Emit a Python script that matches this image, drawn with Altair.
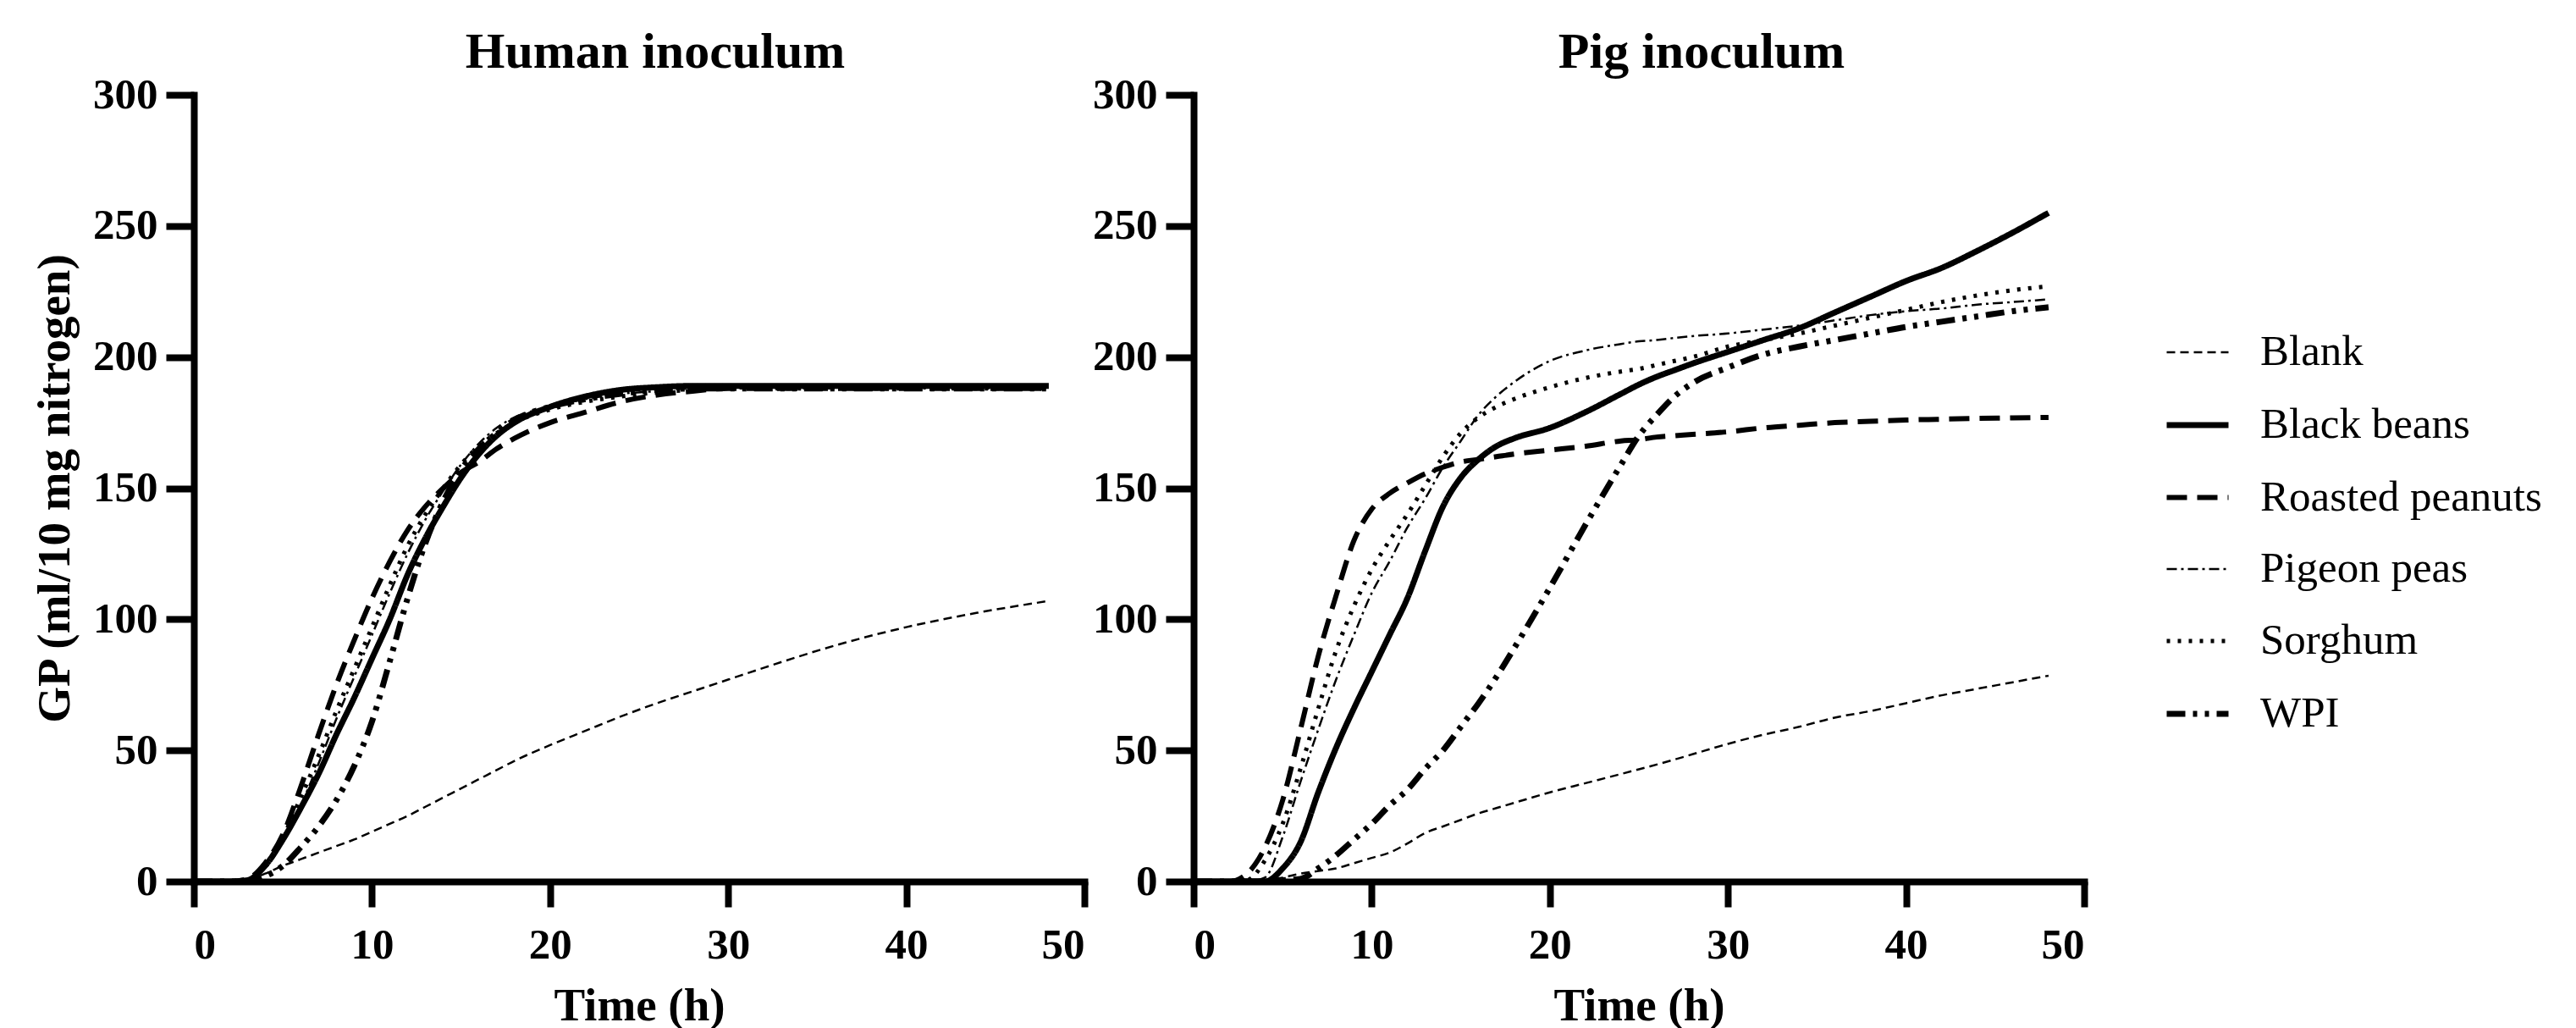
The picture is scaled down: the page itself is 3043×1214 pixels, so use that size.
import altair as alt
import pandas as pd

series_names = ["Blank", "Black beans", "Roasted peanuts", "Pigeon peas", "Sorghum", "WPI"]

# ---- Human inoculum ----
human_time = [0, 2, 3, 4, 5, 6, 7, 8, 9, 10, 11, 12, 13, 14, 15, 16, 17, 18, 20, 22, 24, 26, 28, 30, 32, 36, 40, 44, 48]
human_blank = [0, 0, 0.5, 3, 6, 8.5, 11, 13.5, 16, 19, 22, 25, 28.5, 32, 35.5, 39, 42.5, 46, 52, 57.5, 63, 68, 72.5, 77, 81.5, 90, 97, 102.5, 107]
human_black_beans = [0, 0, 0.5, 6, 16, 28, 41, 56, 70, 85, 100, 117, 131, 143, 154, 163, 170, 175, 181, 185, 187.5, 188.5, 189, 189, 189, 189, 189, 189, 189]
human_roasted_peanuts = [0, 0, 1, 7, 18, 36, 56, 75, 92, 108, 122, 134, 143, 150, 156, 160, 165, 169, 175, 179, 183, 185.5, 187, 188, 188, 188, 188, 188, 188]
human_pigeon_peas = [0, 0, 0.5, 5, 15, 29, 45, 62, 78, 94, 110, 125, 138, 149, 159, 167, 173, 177, 181, 184, 186, 187, 188, 188, 188, 188, 188, 188, 188]
human_sorghum = [0, 0, 0.5, 6, 17, 32, 48, 65, 81, 97, 113, 128, 140, 150, 159, 166, 171, 175, 180, 183, 185, 186.5, 187.5, 188, 188, 188, 188, 188, 188]
human_wpi = [0, 0, 0, 2, 6, 13, 21, 31, 44, 61, 84, 108, 129, 145, 157, 165, 171, 176, 181, 184, 186, 187.5, 188, 188, 188, 188, 188, 188, 188]

# ---- Pig inoculum ----
pig_time = [0, 2, 3, 4, 5, 6, 7, 8, 9, 10, 11, 12, 13, 14, 15, 16, 17, 18, 20, 22, 24, 25, 26, 27, 28, 30, 32, 34, 36, 38, 40, 42, 44, 46, 48]
pig_blank = [0, 0, 0, 0.5, 1.5, 3, 4, 5, 7, 9, 11, 14.5, 18.5, 21, 23.5, 26, 28, 30, 34, 37.5, 41, 42.8, 44.6, 46.5, 48.5, 52.5, 56, 59, 62.5, 65, 68, 71, 73.5, 76, 78.5]
pig_black_beans = [0, 0, 0, 0, 5, 15, 34, 51, 66, 80, 94, 108, 126, 143, 154, 161, 166, 169, 173, 179, 186, 189.5, 192.5, 195, 197.5, 202, 206.5, 211, 217, 223, 229, 234, 240.5, 247.5, 255]
pig_roasted_peanuts = [0, 0, 3, 13, 31, 58, 86, 109, 130, 142, 148, 152, 155.5, 158, 160, 161, 162, 163, 164.5, 166, 168, 168.5, 169.5, 170, 170.5, 171.5, 173, 174, 175, 175.5, 176, 176.3, 176.6, 176.8, 177]
pig_pigeon_peas = [0, 0, 0, 1.5, 17, 38, 58, 77, 94, 110, 122, 135, 146, 158, 168, 178, 185, 190.5, 198.5, 202.5, 205, 206, 206.5, 207.3, 208, 209, 210.5, 212, 214, 216, 217.5, 218.5, 220, 221, 222]
pig_sorghum = [0, 0, 0.5, 8, 22, 43, 66, 88, 105, 119, 130, 140, 151, 162, 171, 177, 181, 184, 188.5, 192, 194.5, 195.5, 197, 198.5, 200, 204, 206.5, 209, 212, 215, 218, 221, 223.5, 225.5, 227]
pig_wpi = [0, 0, 0, 0, 0.5, 1, 5, 10, 16, 22, 29, 35, 43, 50, 59, 68, 78, 89, 112, 136, 159, 170, 178, 185, 190, 196, 201, 204, 206.5, 209, 211.5, 213.5, 215.5, 217.5, 219]

x_ticks = [0, 10, 20, 30, 40, 50]
y_ticks = [0, 50, 100, 150, 200, 250, 300]

dash_range = [[10, 6], [1, 0], [24, 12], [12, 5, 3, 5], [4, 9], [22, 9, 5, 9, 5, 9]]
width_range = [2.5, 7, 6, 2.5, 5, 7]


def long_df(times, series_values):
    rows = []
    for name, vals in zip(series_names, series_values):
        for t, v in zip(times, vals):
            rows.append({"time": t, "gp": v, "series": name})
    return pd.DataFrame(rows)


human_df = long_df(human_time, [human_blank, human_black_beans, human_roasted_peanuts,
                                human_pigeon_peas, human_sorghum, human_wpi])
pig_df = long_df(pig_time, [pig_blank, pig_black_beans, pig_roasted_peanuts,
                            pig_pigeon_peas, pig_sorghum, pig_wpi])

FONT = "Liberation Serif"

legend = alt.Legend(
    title=None, orient="none", legendX=2327, legendY=266,
    symbolType="stroke", symbolSize=5329, symbolStrokeColor="black",
    labelFont=FONT, labelFontSize=51, labelFontWeight="normal", labelColor="black",
    labelOffset=34, labelLimit=800, rowPadding=21, padding=0,
)


def panel(df, title, dx, y_title):
    return alt.Chart(df).mark_line(color="black", interpolate="monotone", strokeCap="butt").encode(
        x=alt.X("time:Q", scale=alt.Scale(domain=[0, 50], nice=False),
                axis=alt.Axis(values=x_ticks, title="Time (h)", tickSize=30, labelPadding=20, titlePadding=20)),
        y=alt.Y("gp:Q", scale=alt.Scale(domain=[0, 300], nice=False),
                axis=alt.Axis(values=y_ticks, title=y_title, tickSize=33, labelPadding=10, titlePadding=16)),
        strokeDash=alt.StrokeDash("series:N", scale=alt.Scale(type="ordinal", domain=series_names, range=dash_range),
                                  legend=legend),
        strokeWidth=alt.StrokeWidth("series:N", scale=alt.Scale(type="ordinal", domain=series_names, range=width_range),
                                    legend=legend),
    ).properties(
        width=1052, height=929,
        title=alt.TitleParams(title, font=FONT, fontSize=60, fontWeight="bold", color="black",
                              anchor="middle", dx=dx, offset=-7),
    )


left = panel(human_df, "Human inoculum", 19, "GP (ml/10 mg nitrogen)")
right = panel(pig_df, "Pig inoculum", 74, "")

chart = alt.hconcat(left, right, spacing=129, bounds="flush").resolve_scale(
    strokeDash="shared", strokeWidth="shared"
).properties(
    autosize=alt.AutoSizeParams(type="pad"),
    padding={"left": 29, "top": 24, "right": 5, "bottom": 0},
).configure_axis(
    domainColor="black", domainWidth=8, domainCap="square",
    tickColor="black", tickWidth=8, grid=False,
    labelFont=FONT, labelFontSize=51, labelFontWeight="bold", labelColor="black",
    titleFont=FONT, titleFontSize=55, titleFontWeight="bold", titleColor="black",
).configure_view(stroke=None)

chart.save("out.html", embed_options={"renderer": "svg", "actions": False})
